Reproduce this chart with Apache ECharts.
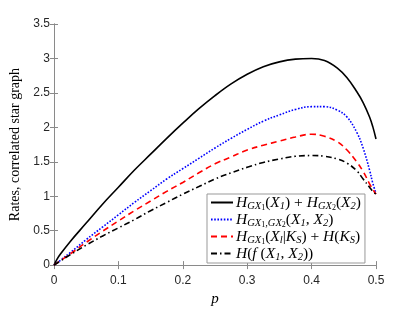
<!DOCTYPE html>
<html>
<head>
<meta charset="utf-8">
<script src="https://cdn.jsdelivr.net/npm/echarts@6/dist/echarts.min.js"></script>
<style>
html,body{margin:0;padding:0;background:#fff;}
#chart{width:415px;height:312px;}
</style>
</head>
<body>
<div id="chart"></div>
<script>
// ---- data ----
var pValues = [0, 0.005, 0.01, 0.025, 0.05, 0.075, 0.1, 0.125, 0.15, 0.175, 0.2, 0.225, 0.25, 0.275, 0.3, 0.325, 0.35, 0.375, 0.4, 0.42, 0.44, 0.455, 0.47, 0.48, 0.49, 0.495, 0.5];
var sumMarginal = [0, 0.09, 0.16, 0.34, 0.61, 0.88, 1.13, 1.38, 1.61, 1.84, 2.06, 2.27, 2.46, 2.63, 2.77, 2.88, 2.95, 2.99, 3.0, 2.97, 2.86, 2.72, 2.52, 2.36, 2.15, 2.01, 1.83];
var jointGraph = [0, 0.035, 0.07, 0.18, 0.37, 0.55, 0.73, 0.91, 1.08, 1.25, 1.40, 1.55, 1.70, 1.84, 1.97, 2.09, 2.18, 2.26, 2.30, 2.30, 2.25, 2.15, 1.93, 1.70, 1.38, 1.19, 1.04];
var conditionalKS = [0, 0.033, 0.065, 0.16, 0.33, 0.49, 0.64, 0.79, 0.93, 1.07, 1.20, 1.34, 1.47, 1.57, 1.67, 1.74, 1.80, 1.86, 1.90, 1.87, 1.79, 1.67, 1.50, 1.36, 1.18, 1.10, 1.03];
var functionEntropy = [0, 0.03, 0.06, 0.15, 0.29, 0.42, 0.54, 0.66, 0.79, 0.91, 1.03, 1.14, 1.25, 1.34, 1.42, 1.49, 1.54, 1.58, 1.59, 1.58, 1.54, 1.48, 1.37, 1.25, 1.13, 1.07, 1.03];
var xTicks = [0, 0.1, 0.2, 0.3, 0.4, 0.5];
var yTicks = [0, 0.5, 1, 1.5, 2, 2.5, 3, 3.5];
var seriesNames = ['s1', 's2', 's3', 's4'];

function pairs(ys) { return pValues.map(function (p, i) { return [p, ys[i]]; }); }

var serif = '"Liberation Serif", "DejaVu Serif", serif';
var sans = '"Liberation Sans", Arial, sans-serif';

var legendRich = {
  i: { fontFamily: serif, fontStyle: 'italic', fontSize: 15.5, lineHeight: 15, verticalAlign: 'top', color: '#000' },
  r: { fontFamily: serif, fontSize: 15.5, lineHeight: 15, verticalAlign: 'top', color: '#000' },
  s: { fontFamily: serif, fontStyle: 'italic', fontSize: 10.5, lineHeight: 9, verticalAlign: 'top', padding: [6, 0, 0, 0], color: '#000' },
  sr: { fontFamily: serif, fontSize: 10.5, lineHeight: 9, verticalAlign: 'top', padding: [6, 0, 0, 0], color: '#000' },
  ss: { fontFamily: serif, fontSize: 8, lineHeight: 7, verticalAlign: 'top', padding: [9, 0, 0, 0], color: '#000' }
};
var legendText = {
  s1: '{i|H}{s|G}{s|X}{ss|1}{r|(}{i|X}{s|1}{r|) + }{i|H}{s|G}{s|X}{ss|2}{r|(}{i|X}{s|2}{r|)}',
  s2: '{i|H}{s|G}{s|X}{ss|1}{sr|,}{s|G}{s|X}{ss|2}{r|(}{i|X}{s|1}{r|, }{i|X}{s|2}{r|)}',
  s3: '{i|H}{s|G}{s|X}{ss|1}{r|(}{i|X}{s|l}{r||}{i|K}{s|S}{r|) + }{i|H}{r|(}{i|K}{s|S}{r|)}',
  s4: '{i|H}{r|(}{i|f}{r| (}{i|X}{s|1}{r|, }{i|X}{s|2}{r|))}'
};

var chart = echarts.init(document.getElementById('chart'), null, { renderer: 'canvas' });
var axisColor = '#8a8a8a';
var option = {
  animation: false,
  backgroundColor: '#fff',
  grid: { left: 54, top: 24, right: 39, bottom: 43 },
  legend: {
    orient: 'vertical',
    left: 207,
    top: 194,
    padding: [1, 4, 0, 3],
    itemGap: 0,
    itemWidth: 22,
    itemHeight: 10,
    backgroundColor: '#fff',
    borderColor: '#999',
    borderWidth: 1,
    borderRadius: 0,
    itemStyle: { opacity: 0 },
    data: seriesNames,
    formatter: function (name) { return legendText[name]; },
    textStyle: { rich: legendRich, padding: [0, 0, 0, -2] }
  },
  xAxis: [{
    type: 'value', min: 0, max: 0.5, interval: 0.1,
    name: 'p', nameLocation: 'middle', nameGap: 24,
    nameTextStyle: { fontFamily: serif, fontStyle: 'italic', fontSize: 15, color: '#000' },
    axisLine: { show: true, lineStyle: { color: axisColor, width: 1 } },
    axisTick: { show: true, inside: true, length: 4, lineStyle: { color: axisColor } },
    axisLabel: { fontFamily: sans, fontSize: 12, color: '#262626', margin: 10,
      formatter: function (v) { return String(xTicks[Math.round(v * 10)]); } },
    splitLine: { show: false }
  }, {
    type: 'value', min: 0, max: 0.5, interval: 0.1, position: 'top',
    axisLine: { show: true, lineStyle: { color: axisColor, width: 1 } },
    axisTick: { show: true, inside: true, length: 4, lineStyle: { color: axisColor } },
    axisLabel: { show: false }, splitLine: { show: false }
  }],
  yAxis: [{
    type: 'value', min: 0, max: 3.5, interval: 0.5,
    name: 'Rates, correlated star graph', nameLocation: 'middle', nameGap: 27,
    nameTextStyle: { fontFamily: serif, fontSize: 14, color: '#000' },
    axisLine: { show: true, lineStyle: { color: axisColor, width: 1 } },
    axisTick: { show: true, inside: true, length: 4, lineStyle: { color: axisColor } },
    axisLabel: { fontFamily: sans, fontSize: 12, color: '#262626', margin: 4,
      formatter: function (v) { return String(yTicks[Math.round(v * 2)]); } },
    splitLine: { show: false }
  }, {
    type: 'value', min: 0, max: 3.5, interval: 0.5, position: 'right',
    axisLine: { show: true, lineStyle: { color: axisColor, width: 1 } },
    axisTick: { show: true, inside: true, length: 4, lineStyle: { color: axisColor } },
    axisLabel: { show: false }, splitLine: { show: false }
  }],
  series: [
    { name: 's1', type: 'line', data: pairs(sumMarginal), showSymbol: false, symbol: 'none', smooth: 0.4,
      lineStyle: { color: '#000', width: 1.6, type: 'solid' }, itemStyle: { color: '#000' } },
    { name: 's2', type: 'line', data: pairs(jointGraph), showSymbol: false, symbol: 'none', smooth: 0.4,
      lineStyle: { color: '#0000ff', width: 1.6, type: [1.6, 1.6] }, itemStyle: { color: '#0000ff' } },
    { name: 's3', type: 'line', data: pairs(conditionalKS), showSymbol: false, symbol: 'none', smooth: 0.4,
      lineStyle: { color: '#ff0000', width: 1.6, type: [6, 4] }, itemStyle: { color: '#ff0000' } },
    { name: 's4', type: 'line', data: pairs(functionEntropy), showSymbol: false, symbol: 'none', smooth: 0.4,
      lineStyle: { color: '#000', width: 1.6, type: [6, 3, 1.5, 3] }, itemStyle: { color: '#000' } }
  ]
};
chart.setOption(option);
</script>
</body>
</html>
